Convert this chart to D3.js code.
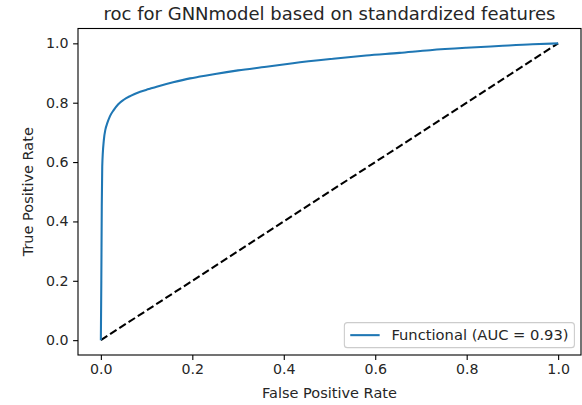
<!DOCTYPE html>
<html>
<head>
<meta charset="utf-8">
<script src="https://cdn.jsdelivr.net/npm/d3@7"></script>
<style>
  html, body { margin: 0; padding: 0; background: #fff; }
  svg text { font-family: "DejaVu Sans", sans-serif; fill: #262626; }
</style>
</head>
<body>
<div id="chart"></div>
<script>
// values
const fpr = [0, 0.001, 0.002, 0.003, 0.0065, 0.01, 0.014, 0.02, 0.028, 0.038, 0.05, 0.065, 0.086,
  0.105, 0.122, 0.158, 0.195, 0.217, 0.25, 0.3, 0.362, 0.42, 0.508, 0.58, 0.653, 0.72, 0.799, 0.87, 0.944, 1.0];
const tpr = [0, 0.2, 0.45, 0.585, 0.674, 0.71, 0.731, 0.755, 0.775, 0.795, 0.81, 0.823, 0.837,
  0.846, 0.854, 0.869, 0.882, 0.888, 0.897, 0.909, 0.921, 0.933, 0.948, 0.959, 0.968, 0.977, 0.985, 0.991, 0.997, 1.0];
const chance = [[0, 0], [1, 1]];
const xTicks = [0, 0.2, 0.4, 0.6, 0.8, 1.0];
const yTicks = [0, 0.2, 0.4, 0.6, 0.8, 1.0];
const title = "roc for GNNmodel based on standardized features";
const xLabel = "False Positive Rate";
const yLabel = "True Positive Rate";
const legendLabel = "Functional (AUC = 0.93)";

const width = 582;
const height = 405;
const margin = { top: 28.5, right: 1, bottom: 50, left: 78 };
const fs = 14.2;

const svg = d3.select("#chart")
  .append("svg")
  .attr("width", width)
  .attr("height", height);

const x = d3.scaleLinear().domain([-0.05, 1.05]).range([margin.left, width - margin.right]);
const y = d3.scaleLinear().domain([-0.05, 1.05]).range([height - margin.bottom, margin.top]);

const xAxis = d3.axisBottom(x).tickValues(xTicks).tickFormat(d3.format(".1f")).tickSize(4.9).tickPadding(4.5);
const yAxis = d3.axisLeft(y).tickValues(yTicks).tickFormat(d3.format(".1f")).tickSize(4.9).tickPadding(4.5);

const gx = svg.append("g")
  .attr("transform", `translate(0,${height - margin.bottom})`)
  .call(xAxis);
const gy = svg.append("g")
  .attr("transform", `translate(${margin.left},0)`)
  .call(yAxis);
[gx, gy].forEach((g) => {
  g.select(".domain").remove();
  g.selectAll("line").attr("stroke", "#000").attr("stroke-width", 1.1);
  g.selectAll("text").style("font-size", fs + "px").attr("fill", "#262626");
});

// diagonal
const line = d3.line().x((d) => x(d[0])).y((d) => y(d[1]));
svg.append("path")
  .datum(chance)
  .attr("d", line)
  .attr("fill", "none")
  .attr("stroke", "#000")
  .attr("stroke-width", 2.08)
  .attr("stroke-dasharray", "7.7,3.3");

// roc curve
const rocData = fpr.map((v, i) => [v, tpr[i]]);
svg.append("path")
  .datum(rocData)
  .attr("d", d3.line().x((d) => x(d[0])).y((d) => y(d[1])).curve(d3.curveMonotoneX))
  .attr("fill", "none")
  .attr("stroke", "#1f77b4")
  .attr("stroke-width", 2.08)
  .attr("stroke-linejoin", "round");

// frame
svg.append("rect")
  .attr("x", margin.left)
  .attr("y", margin.top)
  .attr("width", width - margin.right - margin.left)
  .attr("height", height - margin.bottom - margin.top)
  .attr("fill", "none")
  .attr("stroke", "#000")
  .attr("stroke-width", 1.1);

// title and labels
const cx = (margin.left + width - margin.right) / 2;
svg.append("text")
  .attr("x", cx)
  .attr("y", 20)
  .attr("text-anchor", "middle")
  .style("font-size", "18px")
  .text(title);
svg.append("text")
  .attr("x", cx)
  .attr("y", 398)
  .attr("text-anchor", "middle")
  .style("font-size", "14.5px")
  .text(xLabel);
svg.append("text")
  .attr("transform", `translate(33,${(margin.top + height - margin.bottom) / 2}) rotate(-90)`)
  .attr("text-anchor", "middle")
  .style("font-size", "14.5px")
  .text(yLabel);

// legend
const lfs = 14.7;
const legend = svg.append("g");
const ltext = legend.append("text")
  .style("font-size", lfs + "px")
  .text(legendLabel);
const tw = ltext.node().getComputedTextLength();
const pad = 0.4 * lfs;
const handle = 2.0 * lfs;
const gap = 0.8 * lfs;
const boxW = pad * 2 + handle + gap + tw;
const boxH = 25;
const boxR = width - margin.right - 0.45 * lfs;
const boxB = height - margin.bottom - 0.5 * lfs;
const bx = boxR - boxW;
const by = boxB - boxH;
legend.insert("rect", "text")
  .attr("x", bx)
  .attr("y", by)
  .attr("width", boxW)
  .attr("height", boxH)
  .attr("rx", 3)
  .attr("fill", "#fff")
  .attr("fill-opacity", 0.8)
  .attr("stroke", "#cccccc")
  .attr("stroke-width", 1.1);
legend.append("line")
  .attr("x1", bx + pad)
  .attr("x2", bx + pad + handle)
  .attr("y1", by + boxH / 2)
  .attr("y2", by + boxH / 2)
  .attr("stroke", "#1f77b4")
  .attr("stroke-width", 2.08);
ltext.attr("x", bx + pad + handle + gap).attr("y", by + boxH / 2 + 5);
</script>
</body>
</html>
